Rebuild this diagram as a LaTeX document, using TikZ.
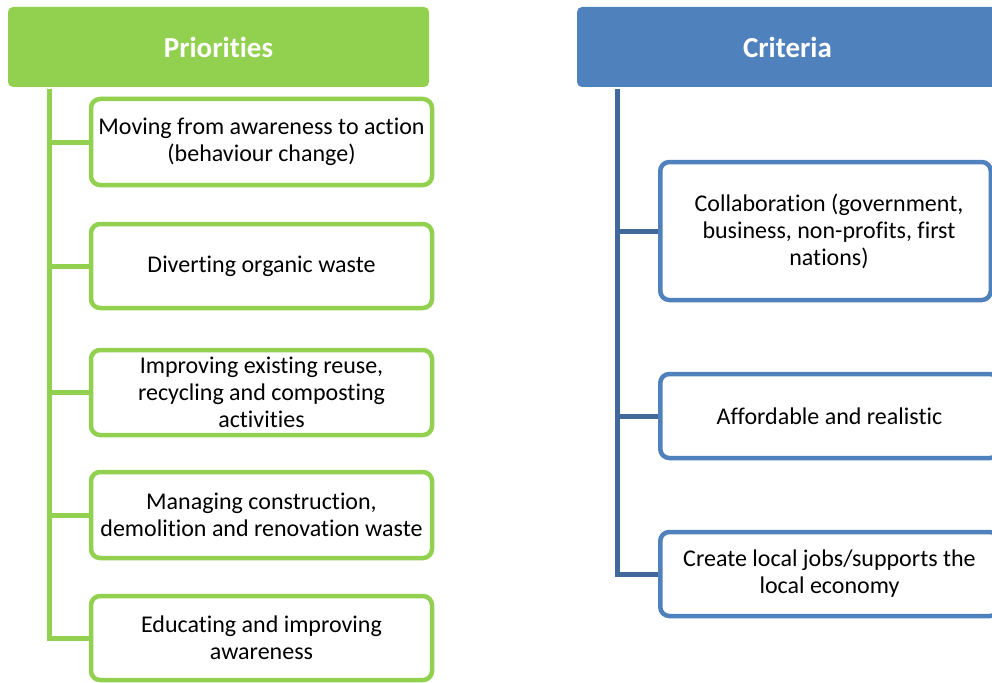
\documentclass[tikz,border=0pt]{standalone}
\usepackage{fontspec}
\setmainfont{Carlito}[Ligatures={NoCommon,NoContextual,NoRare},RawFeature={-liga;-clig;-dlig}]
\definecolor{pgreen}{HTML}{92D050}
\definecolor{cblue}{HTML}{4F81BD}
\definecolor{cdark}{HTML}{41689B}
\begin{document}
\begin{tikzpicture}[x=1pt,y=-1pt,
  hdr/.style={rectangle, rounded corners=5pt, minimum width=421pt, minimum height=80pt, inner sep=0pt, text=white, font=\fontsize{29}{34}\selectfont\bfseries},
  gbox/.style={rectangle, rounded corners=9pt, draw=pgreen, line width=4.5pt, fill=white, minimum width=341pt, inner sep=0pt, align=center, font=\fontsize{24}{27}\selectfont},
  bbox/.style={rectangle, rounded corners=9pt, draw=cblue, line width=4.5pt, fill=white, inner sep=0pt, align=center, font=\fontsize{24}{27}\selectfont},
  gline/.style={draw=pgreen, line width=5pt},
  bline/.style={draw=cdark, line width=5pt}]
\useasboundingbox (0,0) rectangle (992,682);
\clip (0,0) rectangle (992,682);
\fill[white] (0,0) rectangle (992,682);

% Priorities column
\node[hdr, fill=pgreen] (ph) at (218.5,47) {Priorities};
\node[gbox, minimum height=86pt] (g1) at (261.5,142) {Moving from awareness to action\\(behaviour change)};
\node[gbox, minimum height=84pt] (g2) at (261.5,266) {Diverting organic waste};
\node[gbox, minimum height=85pt] (g3) at (261.5,392.5) {Improving existing reuse,\\recycling and composting\\activities};
\node[gbox, minimum height=86pt] (g4) at (261.5,515) {Managing construction,\\demolition and renovation waste};
\node[gbox, minimum height=84pt] (g5) at (261.5,638) {Educating and improving\\awareness};

\coordinate (gtop) at (49.5,89);
\draw[gline] (gtop) |- (g5.west);
\foreach \n in {g1,g2,g3,g4} \draw[gline] (gtop |- \n.west) -- (\n.west);

% Criteria column
\node[hdr, fill=cblue] (ch) at (787.5,47) {Criteria};
\node[bbox, minimum width=330.5pt, minimum height=138pt] (b1) at (825.5,231) {};
\node[font=\fontsize{24}{27}\selectfont, align=center] (b1t) at (829,231) {Collaboration (government,\\business, non-profits, first\\nations)};
\node[bbox, minimum width=338.5pt, minimum height=84pt] (b2) at (829.5,416) {Affordable and realistic};
\node[bbox, minimum width=338.5pt, minimum height=84pt] (b3) at (829.5,574) {Create local jobs/supports the\\local economy};

\coordinate (btop) at (617,89);
\draw[bline] (btop) |- (b3.west);
\foreach \n in {b1,b2} \draw[bline] (btop |- \n.west) -- (\n.west);
\end{tikzpicture}
\end{document}
